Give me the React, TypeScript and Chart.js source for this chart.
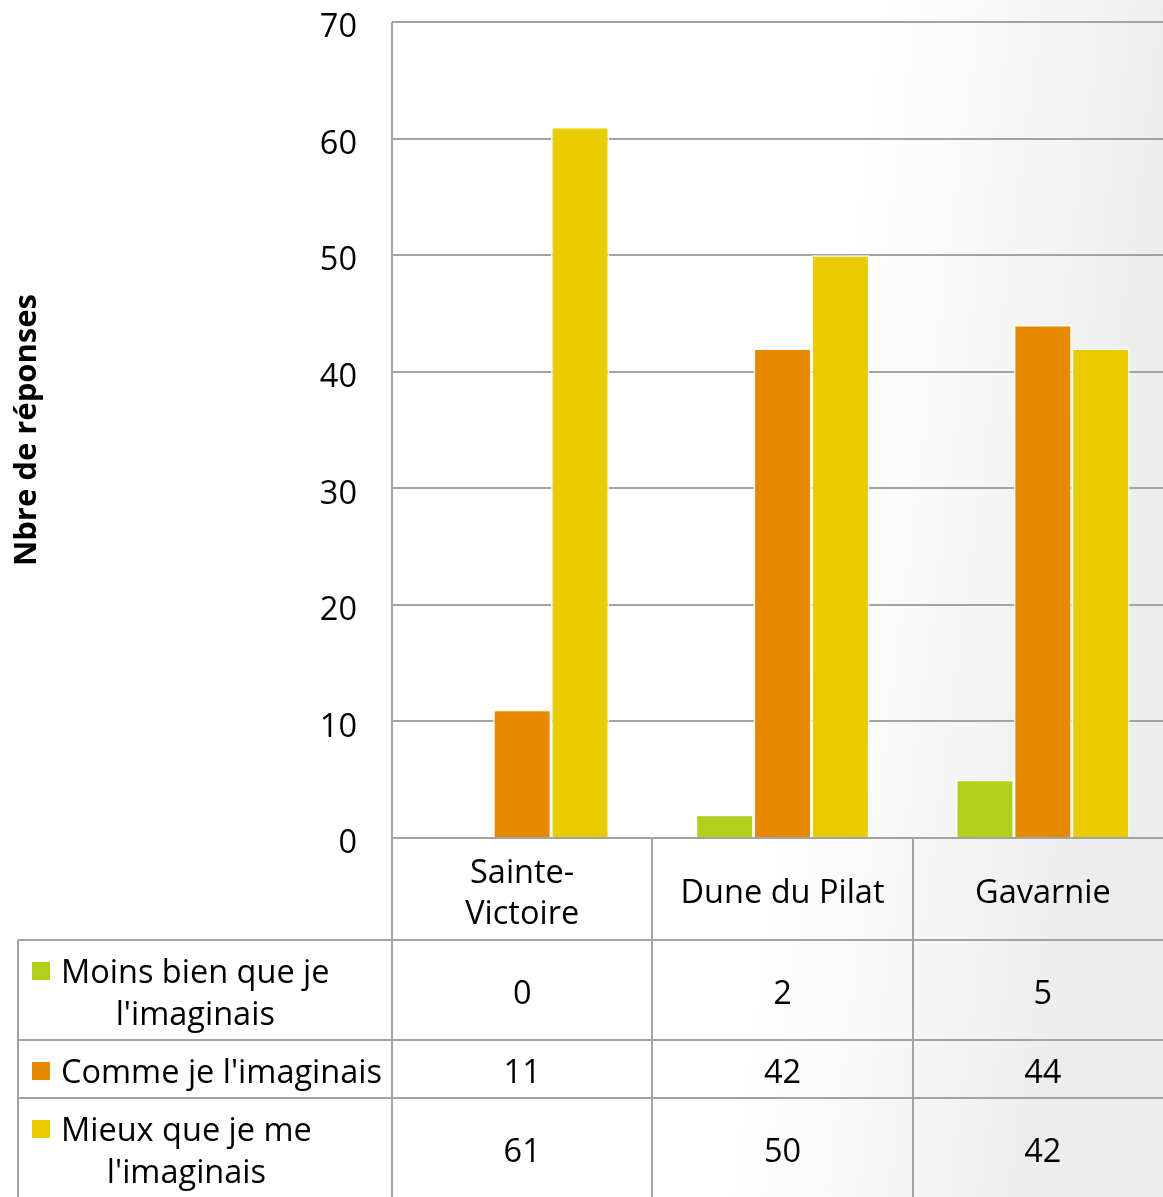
import React, { useEffect, useRef } from "react";
import { Chart, registerables } from "chart.js";

Chart.register(...registerables);

// ---- data ----
const categories = ["Sainte-Victoire", "Dune du Pilat", "Gavarnie"];
const categoryLines = [["Sainte-", "Victoire"], ["Dune du Pilat"], ["Gavarnie"]];
const seriesNames = [
  "Moins bien que je l'imaginais",
  "Comme je l'imaginais",
  "Mieux que je me l'imaginais",
];
const seriesLines = [
  ["Moins bien que je", "l'imaginais"],
  ["Comme je l'imaginais"],
  ["Mieux que je me", "l'imaginais"],
];
const moinsBien = [0, 2, 5];
const comme = [11, 42, 44];
const mieux = [61, 50, 42];
const seriesColors = ["#b1cf1b", "#e78900", "#e8cb00"];
const yMin = 0;
const yMax = 70;
const yStep = 10;
const yTitle = "Nbre de réponses";

const FONT = "'Open Sans', 'Noto Sans', sans-serif";
const GRID = "#a3a3a3";
const FS = 32.5;

export default function App() {
  const ref = useRef<HTMLCanvasElement | null>(null);

  useEffect(() => {
    document.body.style.margin = "0";
    document.body.style.overflow = "hidden";
    const canvas = ref.current;
    if (!canvas) return;
    const seriesData = [moinsBien, comme, mieux];

    const tablePlugin = {
      id: "tablePlugin",
      beforeDraw(chart: any) {
        const { ctx, width, height } = chart;
        ctx.save();
        ctx.fillStyle = "#ffffff";
        ctx.fillRect(0, 0, width, height);
        const g = ctx.createLinearGradient(880, 0, 1190, 40);
        g.addColorStop(0, "rgba(238,238,238,0)");
        g.addColorStop(1, "rgba(237,237,237,1)");
        ctx.fillStyle = g;
        ctx.fillRect(0, 0, width, height);
        ctx.restore();
      },
      afterDraw(chart: any) {
        const { ctx, chartArea, height, width } = chart;
        const xs = chart.scales.x;
        const catW = (chartArea.right - chartArea.left) / categories.length;
        const headerBottom = 940;
        const rowBottoms = [1040, 1098, height + 10];
        const tableLeft = 18;
        ctx.save();
        ctx.strokeStyle = GRID;
        ctx.lineWidth = 2;
        ctx.beginPath();
        ctx.moveTo(chartArea.left, chartArea.top);
        ctx.lineTo(chartArea.left, height);
        for (let i = 1; i < categories.length; i++) {
          const x = Math.round(chartArea.left + i * catW);
          ctx.moveTo(x, chartArea.bottom);
          ctx.lineTo(x, height);
        }
        ctx.moveTo(tableLeft, headerBottom);
        ctx.lineTo(width, headerBottom);
        ctx.moveTo(tableLeft, rowBottoms[0]);
        ctx.lineTo(width, rowBottoms[0]);
        ctx.moveTo(tableLeft, rowBottoms[1]);
        ctx.lineTo(width, rowBottoms[1]);
        ctx.moveTo(tableLeft, headerBottom);
        ctx.lineTo(tableLeft, height);
        ctx.stroke();

        ctx.fillStyle = "#000";
        ctx.font = `${FS}px ${FONT}`;
        ctx.textBaseline = "middle";
        ctx.textAlign = "center";
        const headerCenter = (chartArea.bottom + headerBottom) / 2 + 5;
        categoryLines.forEach((lines, i) => {
          const cx = xs.getPixelForValue(i);
          lines.forEach((ln, j) => {
            ctx.fillText(ln, cx, headerCenter + (j - (lines.length - 1) / 2) * 41);
          });
        });
        const rowTops = [headerBottom, rowBottoms[0], rowBottoms[1]];
        const rowEnds = [rowBottoms[0], rowBottoms[1], 1197];
        seriesData.forEach((vals, r) => {
          const cy = (rowTops[r] + rowEnds[r]) / 2 + 5;
          ctx.textAlign = "center";
          vals.forEach((v, i) => {
            ctx.fillText(String(v), xs.getPixelForValue(i), cy);
          });
          const lines = seriesLines[r];
          const firstW = ctx.measureText(lines[0]).width;
          const textLeft = 61;
          const mid = textLeft + firstW / 2;
          const y0 = cy - ((lines.length - 1) / 2) * 42;
          lines.forEach((ln, j) => {
            if (j === 0) {
              ctx.textAlign = "left";
              ctx.fillText(ln, textLeft, y0);
            } else {
              ctx.textAlign = "center";
              ctx.fillText(ln, mid, y0 + j * 42);
            }
          });
          ctx.fillStyle = seriesColors[r];
          ctx.fillRect(32, Math.round(y0 - 12), 18, 18);
          ctx.fillStyle = "#000";
        });
        ctx.restore();
      },
    };

    const chart = new Chart(canvas, {
      type: "bar",
      data: {
        labels: categories,
        datasets: seriesNames.map((name, i) => ({
          label: name,
          data: seriesData[i],
          backgroundColor: seriesColors[i],
          borderColor: "#ffffff",
          borderWidth: 1.5,
          categoryPercentage: 0.667,
          barPercentage: 1,
        })),
      },
      options: {
        responsive: false,
        animation: false,
        devicePixelRatio: 1,
        layout: { padding: { left: 0, top: 22, right: 2, bottom: 359 } },
        plugins: { legend: { display: false }, tooltip: { enabled: false }, title: { display: false } },
        scales: {
          x: { display: false },
          y: {
            min: yMin,
            max: yMax,
            ticks: { stepSize: yStep, padding: 35, labelOffset: 6, color: "#000", font: { family: FONT, size: FS } },
            grid: { color: GRID, lineWidth: 2, drawTicks: false },
            border: { display: false },
            title: {
              display: true,
              text: yTitle,
              color: "#000",
              font: { family: FONT, size: 31, weight: "bold" },
              padding: { top: 9, bottom: 0 },
            },
            afterFit: (s: any) => {
              s.width = 392;
              s.paddingTop = 0;
              s.paddingBottom = 0;
            },
          },
        },
      },
      plugins: [tablePlugin],
    } as any);
    return () => chart.destroy();
  }, []);

  return (
    <div style={{ width: 1163, height: 1197, overflow: "hidden", position: "relative" }}>
      <canvas ref={ref} width={1175} height={1197} style={{ display: "block" }} />
    </div>
  );
}
